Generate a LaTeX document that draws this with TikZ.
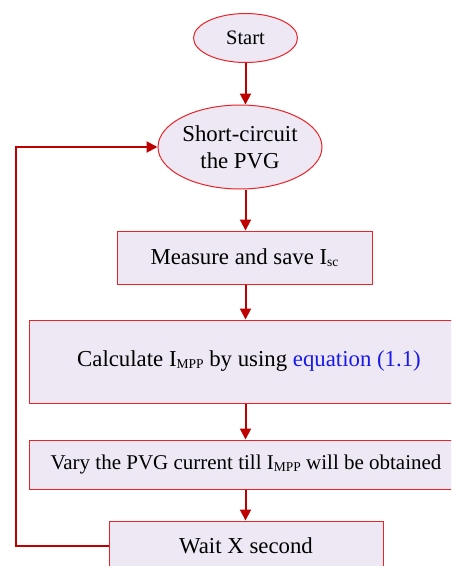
\documentclass[tikz,border=0pt]{standalone}
\usepackage{fontspec}
\setmainfont{Liberation Serif}
\usetikzlibrary{shapes.geometric,arrows.meta}
\definecolor{boxfill}{RGB}{237,232,243}
\definecolor{boxline}{RGB}{235,35,40}
\definecolor{flow}{RGB}{190,0,0}
\definecolor{refblue}{RGB}{25,25,235}
\newcommand{\sub}[1]{\raisebox{-1.5pt}{\fontsize{13.5}{13.5}\selectfont #1}}
\tikzset{
  base/.style={draw=boxline, line width=1pt, fill=boxfill, text=black, inner sep=0pt,
    font=\fontsize{22.8}{27}\selectfont},
  term/.style={base, ellipse},
  proc/.style={base, rectangle},
  arr/.style={draw=flow, line width=2pt, -{Triangle[length=11pt,width=11pt]}}
}
\begin{document}
\begin{tikzpicture}[x=1pt,y=-1pt]
\useasboundingbox (0,0) rectangle (451,566);
\clip (0,0) rectangle (451,566);
\node[term, minimum width=104pt, minimum height=49pt, font=\fontsize{20.5}{24}\selectfont]
  (start) at (245.5,38) {Start};
\node[term, minimum width=164pt, minimum height=84pt, align=center]
  (sc) at (240,147) {Short-circuit\\the PVG};
\node[proc, minimum width=255pt, minimum height=53pt]
  (meas) at (244.5,257.5) {Measure and save I\sub{sc}};
\node[proc, minimum width=440pt, minimum height=83pt]
  (calc) at (249,361.5) {Calculate I\sub{MPP} by using \textcolor{refblue}{equation (1.1)}};
\node[proc, minimum width=434pt, minimum height=49pt, font=\fontsize{21}{24}\selectfont]
  (vary) at (246,464.5) {Vary the PVG current till I\sub{MPP} will be obtained};
\node[proc, minimum width=274pt, minimum height=49pt]
  (wait) at (246,545.5) {Wait X second};
% x of the vertical flow line, and x of the return line
\coordinate (ax) at (245.5,0);
\coordinate (fb) at (16,545);
% main sequence
\draw[arr] (start.south) -- (start.south |- sc.north);
\draw[arr] (sc.south -| ax) -- (meas.north -| ax);
\draw[arr] (meas.south -| ax) -- (calc.north -| ax);
\draw[arr] (calc.south -| ax) -- (vary.north -| ax);
\draw[arr] (vary.south -| ax) -- (wait.north -| ax);
% loop back to the short-circuit step
\draw[arr] (wait.west) -- (wait.west -| fb) |- (sc.west);
\end{tikzpicture}
\end{document}
